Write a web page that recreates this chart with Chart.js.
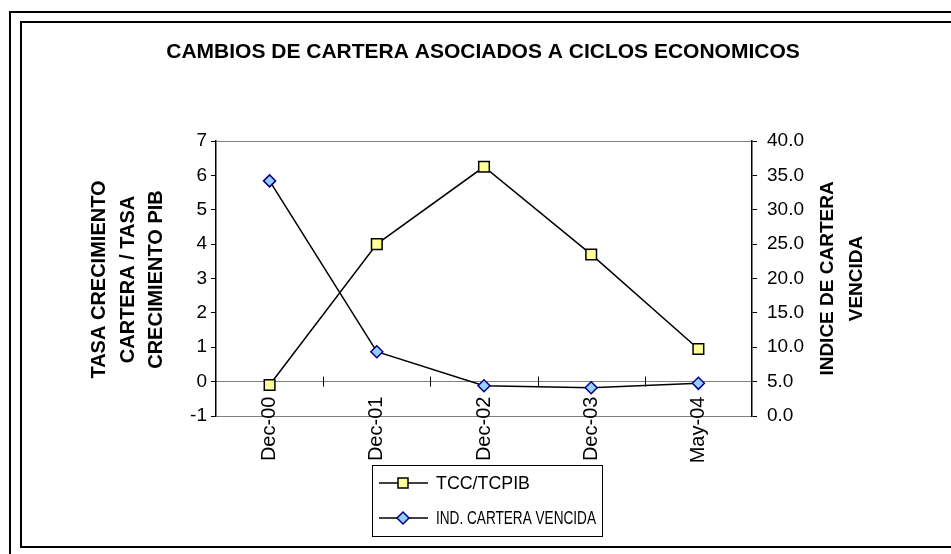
<!DOCTYPE html>
<html>
<head>
<meta charset="utf-8">
<script src="https://cdn.jsdelivr.net/npm/chart.js@4/dist/chart.umd.min.js"></script>
<style>
  html, body { margin: 0; padding: 0; background: #fff; }
  #wrap { width: 951px; height: 554px; position: relative; }
</style>
</head>
<body>
<div id="wrap"><canvas id="cartera"></canvas></div>
<script>
const periods = ["Dec-00", "Dec-01", "Dec-02", "Dec-03", "May-04"];
const tccTcpib = [-0.1, 4.0, 6.25, 3.7, 0.95];
const indCarteraVencida = [34.2, 9.35, 4.4, 4.1, 4.75];
const leftTitle = ["TASA CRECIMIENTO", "CARTERA / TASA", "CRECIMIENTO PIB"];
const rightTitle = ["INDICE DE CARTERA", "VENCIDA"];
const chartTitle = "CAMBIOS DE CARTERA ASOCIADOS A CICLOS ECONOMICOS";

const FONT = "'Liberation Sans', Arial, sans-serif";
Chart.defaults.font.family = FONT;
Chart.defaults.color = "#000";

// legend marker, same shapes as the points
function marker(ctx, ds, x, y) {
  ctx.fillStyle = ds.pointBackgroundColor;
  ctx.strokeStyle = ds.pointBorderColor;
  ctx.lineWidth = 1.5;
  ctx.beginPath();
  if (ds.pointStyle === "rect") {
    ctx.rect(x - 5, y - 5, 10, 10);
  } else {
    ctx.moveTo(x, y - 6);
    ctx.lineTo(x + 6, y);
    ctx.lineTo(x, y + 6);
    ctx.lineTo(x - 6, y);
    ctx.closePath();
  }
  ctx.fill();
  ctx.stroke();
}

// frame, titles and legend drawn by hand (Excel-like look)
const decor = {
  id: "decor",
  beforeDraw(chart) {
    const ctx = chart.ctx;
    ctx.save();
    ctx.fillStyle = "#fff";
    ctx.fillRect(0, 0, chart.width, chart.height);
    ctx.strokeStyle = "#000";
    ctx.lineWidth = 2;
    ctx.beginPath();
    ctx.moveTo(10, 560); ctx.lineTo(10, 12); ctx.lineTo(960, 12);
    ctx.stroke();
    ctx.strokeRect(21, 22, 950, 525);
    ctx.restore();
  },
  afterDraw(chart) {
    const ctx = chart.ctx;
    const area = chart.chartArea;
    const x = chart.scales.x;
    const midY = (area.top + area.bottom) / 2;
    ctx.save();
    ctx.fillStyle = "#000";
    ctx.textAlign = "center";
    ctx.textBaseline = "middle";
    ctx.font = "bold 21px " + FONT;
    ctx.fillText(chartTitle, 483, 52);

    // left axis title
    ctx.font = "bold 20px " + FONT;
    ctx.save();
    ctx.translate(128, midY + 1);
    ctx.rotate(-Math.PI / 2);
    leftTitle.forEach((t, i) => ctx.fillText(t, 0, (i - 1) * 28.5));
    ctx.restore();
    // right axis title
    ctx.font = "bold 19px " + FONT;
    ctx.save();
    ctx.translate(842, midY);
    ctx.rotate(-Math.PI / 2);
    rightTitle.forEach((t, i) => ctx.fillText(t, 0, (i - 0.5) * 29));
    ctx.restore();

    // category tick marks crossing the zero line
    const y0 = chart.scales.y.getPixelForValue(0);
    ctx.strokeStyle = "#000";
    ctx.lineWidth = 1;
    for (let i = 0; i < periods.length - 1; i++) {
      const px = Math.round((x.getPixelForTick(i) + x.getPixelForTick(i + 1)) / 2) + 0.5;
      ctx.beginPath();
      ctx.moveTo(px, y0 - 5);
      ctx.lineTo(px, y0 + 5);
      ctx.stroke();
    }

    // legend
    const lx = 372.5, ly = 465.5, lw = 230, lh = 71;
    ctx.fillStyle = "#fff";
    ctx.fillRect(lx, ly, lw, lh);
    ctx.strokeStyle = "#000";
    ctx.lineWidth = 1;
    ctx.strokeRect(lx, ly, lw, lh);
    ctx.textAlign = "left";
    ctx.font = "19px " + FONT;
    const rows = [483, 518];
    const widths = [94, 160];
    chart.data.datasets.forEach((ds, i) => {
      const ry = rows[i];
      ctx.strokeStyle = "#000";
      ctx.lineWidth = 1.5;
      ctx.beginPath();
      ctx.moveTo(379, ry);
      ctx.lineTo(428, ry);
      ctx.stroke();
      marker(ctx, ds, 403, ry);
      ctx.fillStyle = "#000";
      ctx.fillText(ds.label, 436, ry + 1, widths[i]);
    });
    ctx.restore();
  }
};

const ctx = document.getElementById("cartera").getContext("2d");
new Chart(ctx, {
  type: "line",
  data: {
    labels: periods,
    datasets: [
      {
        label: "TCC/TCPIB",
        data: tccTcpib,
        yAxisID: "y",
        borderColor: "#000",
        borderWidth: 1.5,
        pointStyle: "rect",
        pointRadius: 7.5,
        pointBackgroundColor: "#FFFF99",
        pointBorderColor: "#000",
        pointBorderWidth: 1.5,
        tension: 0
      },
      {
        label: "IND. CARTERA VENCIDA",
        data: indCarteraVencida,
        yAxisID: "y1",
        borderColor: "#000",
        borderWidth: 1.5,
        pointStyle: "rectRot",
        pointRadius: 6,
        pointBackgroundColor: "#99CCFF",
        pointBorderColor: "#000080",
        pointBorderWidth: 1.5,
        tension: 0
      }
    ]
  },
  options: {
    responsive: true,
    maintainAspectRatio: false,
    animation: false,
    layout: { padding: { top: 141, bottom: 138, left: 0, right: 0 } },
    plugins: {
      legend: { display: false },
      title: { display: false },
      tooltip: { enabled: false }
    },
    scales: {
      x: {
        position: { y: 0 },
        offset: true,
        grid: {
          offset: true,
          drawOnChartArea: false,
          drawTicks: false
        },
        border: { color: "#808080", width: 1 },
        ticks: {
          minRotation: 90,
          maxRotation: 90,
          padding: 15,
          font: { size: 20 },
          color: "#000"
        }
      },
      y: {
        position: "left",
        min: -1,
        max: 7,
        afterFit(scale) { scale.width = 216; },
        grid: {
          color: (c) => (c.tick && (c.tick.value === 7 || c.tick.value === -1)) ? "#808080" : "rgba(0,0,0,0)",
          tickColor: "#000",
          tickLength: 5
        },
        border: { color: "#000", width: 1.5 },
        ticks: {
          stepSize: 1,
          padding: 4,
          font: { size: 19 },
          color: "#000"
        }
      },
      y1: {
        position: "right",
        min: 0,
        max: 40,
        afterFit(scale) { scale.width = 199; },
        grid: {
          drawOnChartArea: false,
          tickColor: "#000",
          tickLength: 5
        },
        border: { color: "#000", width: 1.5 },
        ticks: {
          stepSize: 5,
          padding: 10,
          font: { size: 19 },
          color: "#000",
          callback: (v) => Number(v).toFixed(1)
        }
      }
    }
  },
  plugins: [decor]
});
</script>
</body>
</html>
